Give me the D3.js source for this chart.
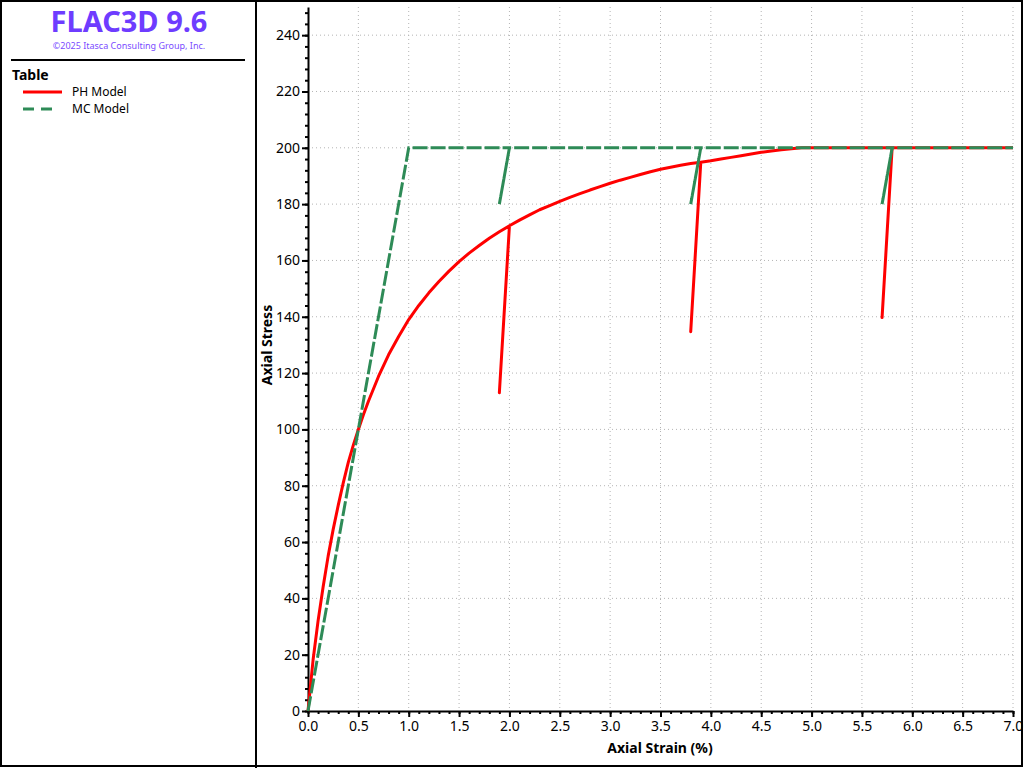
<!DOCTYPE html>
<html>
<head>
<meta charset="utf-8">
<script src="https://cdn.jsdelivr.net/npm/d3@7"></script>
<style>
  html, body { margin: 0; padding: 0; background: #fff; }
  svg { display: block; font-family: "Noto Sans", "Open Sans", sans-serif; }
</style>
</head>
<body>
<svg id="chart" width="1024" height="768"></svg>
<script>
// ---- data ----
const seriesNames = ["PH Model", "MC Model"];
const seriesColors = ["#ff0000", "#2e8b57"];
const phStrain = [0, 0.025, 0.05, 0.1, 0.15, 0.2, 0.25, 0.3, 0.35, 0.4, 0.45, 0.5, 0.55, 0.6, 0.7, 0.8, 0.9, 1.0,
  1.1, 1.2, 1.3, 1.4, 1.5, 1.6, 1.7, 1.8, 1.9, 2.0, 1.9, 2.0,
  2.1, 2.2, 2.3, 2.4, 2.5, 2.6, 2.7, 2.8, 2.9, 3.0, 3.1, 3.2, 3.3, 3.4, 3.5, 3.6, 3.7, 3.8, 3.9, 3.8, 3.9,
  4.0, 4.1, 4.2, 4.3, 4.4, 4.5, 4.6, 4.7, 4.8, 4.9, 5.8, 5.7, 5.8, 7.0];
const phStress = [0, 9, 18, 32, 44, 55, 64.5, 73, 81, 88.3, 94.4, 100, 105.2, 110, 118.8, 126.5, 133, 139,
  144, 148.5, 152.5, 156.2, 159.6, 162.6, 165.3, 167.9, 170.2, 172.3, 113, 172.3,
  174.3, 176.2, 178, 179.5, 181, 182.4, 183.7, 185, 186.2, 187.4, 188.5, 189.5, 190.5, 191.5, 192.4, 193.1, 193.8, 194.4, 194.9, 134.7, 194.9,
  195.4, 196, 196.6, 197.2, 197.8, 198.4, 198.9, 199.3, 199.7, 200, 200, 139.7, 200, 200];
const mcStrain = [0, 1.0, 2.0, 1.9, 2.0, 3.9, 3.8, 3.9, 5.8, 5.7, 5.8, 7.0];
const mcStress = [0, 200, 200, 180, 200, 200, 180, 200, 200, 180, 200, 200];
const xTicks = [0, 0.5, 1, 1.5, 2, 2.5, 3, 3.5, 4, 4.5, 5, 5.5, 6, 6.5, 7];
const yTicks = [0, 20, 40, 60, 80, 100, 120, 140, 160, 180, 200, 220, 240];
const titleText = "FLAC3D 9.6";
const copyrightText = "\u00A92025 Itasca Consulting Group, Inc.";
const legendTitle = "Table";
const xLabel = "Axial Strain (%)";
const yLabel = "Axial Stress";

// ---- layout ----
const svg = d3.select("#chart");
const x = d3.scaleLinear().domain([0, 7]).range([308, 1013]);
const y = d3.scaleLinear().domain([0, 250]).range([711, 7]);

// frame
svg.append("rect").attr("x", 1).attr("y", 1).attr("width", 1021).attr("height", 765)
  .attr("fill", "none").attr("stroke", "#000").attr("stroke-width", 2);
svg.append("line").attr("x1", 256).attr("x2", 256).attr("y1", 0).attr("y2", 768)
  .attr("stroke", "#000").attr("stroke-width", 2);

// title block
svg.append("text").attr("x", 129).attr("y", 32).attr("text-anchor", "middle")
  .attr("font-size", 29).attr("font-weight", "bold").attr("fill", "#6e3cff").text(titleText);
svg.append("text").attr("x", 129).attr("y", 49).attr("text-anchor", "middle")
  .attr("font-size", 9).attr("fill", "#7a4cff").text(copyrightText);
svg.append("line").attr("x1", 11).attr("x2", 245).attr("y1", 60).attr("y2", 60)
  .attr("stroke", "#000").attr("stroke-width", 2);

// legend
svg.append("text").attr("x", 12).attr("y", 80).attr("font-size", 14).attr("font-weight", "bold")
  .attr("fill", "#000").text(legendTitle);
const legendDash = [null, "11,7"];
seriesNames.forEach((name, i) => {
  const ly = 92 + i * 17;
  svg.append("line").attr("x1", 23).attr("x2", i === 0 ? 62 : 55).attr("y1", ly).attr("y2", ly)
    .attr("stroke", seriesColors[i]).attr("stroke-width", 3)
    .attr("stroke-dasharray", legendDash[i]);
  svg.append("text").attr("x", 72).attr("y", ly + 4).attr("font-size", 12).attr("fill", "#000").text(name);
});

// grid
const grid = svg.append("g");
xTicks.filter(d => d > 0).forEach(d => {
  grid.append("line").attr("x1", x(d)).attr("x2", x(d)).attr("y1", y(250)).attr("y2", y(0))
    .attr("stroke", "#b4b4b4").attr("stroke-dasharray", "1,3");
});
yTicks.filter(d => d > 0).forEach(d => {
  grid.append("line").attr("x1", x(0)).attr("x2", x(7)).attr("y1", y(d)).attr("y2", y(d))
    .attr("stroke", "#b4b4b4").attr("stroke-dasharray", "1,3");
});

// axes
const axisFont = 14;
const xMinor = d3.range(0, 7.0001, 0.1);
const yMinor = d3.range(0, 250.0001, 4);
const xAxisMinor = svg.append("g").attr("transform", `translate(0,${y(0)})`)
  .call(d3.axisBottom(x).tickValues(xMinor).tickSize(3).tickFormat(""));
xAxisMinor.select(".domain").remove();
xAxisMinor.selectAll("line").attr("stroke-width", 2);
const xAxis = svg.append("g").attr("transform", `translate(0,${y(0)})`)
  .call(d3.axisBottom(x).tickValues(xTicks).tickSize(6).tickSizeOuter(0).tickPadding(4)
    .tickFormat(d3.format(".1f")));
xAxis.select(".domain").attr("stroke-width", 2);
xAxis.selectAll("line").attr("stroke-width", 2);
xAxis.selectAll("text").attr("font-size", axisFont).attr("font-family", "Noto Sans").attr("fill", "#000");

const yAxisMinor = svg.append("g").attr("transform", `translate(${x(0)},0)`)
  .call(d3.axisLeft(y).tickValues(yMinor).tickSize(3).tickFormat(""));
yAxisMinor.select(".domain").remove();
yAxisMinor.selectAll("line").attr("stroke-width", 2);
const yAxis = svg.append("g").attr("transform", `translate(${x(0)},0)`)
  .call(d3.axisLeft(y).tickValues(yTicks).tickSize(6).tickSizeOuter(0).tickPadding(2)
    .tickFormat(d3.format("d")));
yAxis.select(".domain").attr("stroke-width", 2);
yAxis.selectAll("line").attr("stroke-width", 2);
yAxis.selectAll("text").attr("font-size", axisFont).attr("font-family", "Noto Sans").attr("fill", "#000");

// axis labels
svg.append("text").attr("x", 660).attr("y", 753).attr("text-anchor", "middle")
  .attr("font-size", 14).attr("font-weight", "bold").text(xLabel);
svg.append("text").attr("transform", "translate(272,345) rotate(-90)").attr("text-anchor", "middle")
  .attr("font-size", 14).attr("font-weight", "bold").text(yLabel);

// series
const line = d3.line().x(d => x(d[0])).y(d => y(d[1]));
const phData = phStrain.map((s, i) => [s, phStress[i]]);
const mcData = mcStrain.map((s, i) => [s, mcStress[i]]);
svg.append("path").datum(phData).attr("d", line).attr("fill", "none")
  .attr("stroke", seriesColors[0]).attr("stroke-width", 3).attr("stroke-linejoin", "round");
svg.append("path").datum(mcData).attr("d", line).attr("fill", "none")
  .attr("stroke", seriesColors[1]).attr("stroke-width", 3).attr("stroke-dasharray", "15,3");
</script>
</body>
</html>
